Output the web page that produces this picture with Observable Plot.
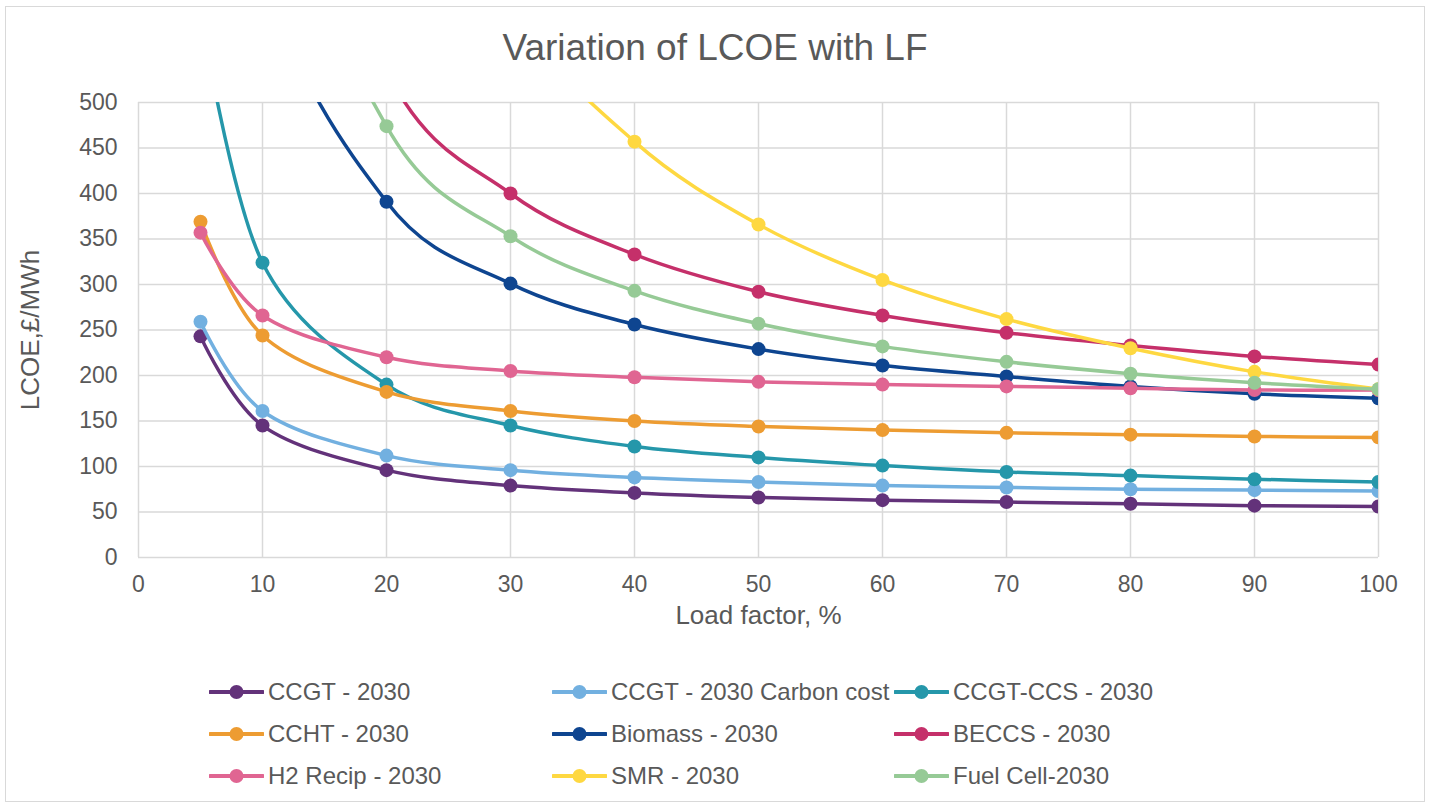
<!DOCTYPE html>
<html>
<head>
<meta charset="utf-8">
<script src="https://cdn.jsdelivr.net/npm/d3@7"></script>
<script src="https://cdn.jsdelivr.net/npm/@observablehq/plot@0.6"></script>
<style>
  html, body { margin: 0; padding: 0; background: #fff; }
  #chart {
    position: relative; width: 1434px; height: 810px; overflow: hidden;
    font-family: "Liberation Sans", Arial, sans-serif; color: #595959;
  }
  #frame {
    position: absolute; left: 5px; top: 6px; width: 1420px; height: 796px;
    border: 1.5px solid #d9d9d9; box-sizing: border-box;
  }
  #title {
    position: absolute; left: 0; width: 1430px; top: 26px; text-align: center;
    font-size: 37px; line-height: 44px; color: #595959;
  }
  #plot { position: absolute; left: 0; top: 0; }
  .legend-item {
    position: absolute; display: flex; align-items: center; height: 30px;
    font-size: 24px; color: #595959; white-space: nowrap;
  }
  .legend-item svg { margin-right: 4px; }
</style>
</head>
<body>
<div id="chart">
  <div id="frame"></div>
  <div id="title">Variation of LCOE with LF</div>
  <div id="plot"></div>
</div>
<script>
// Load factor (%) at which each technology was costed
const loadFactors = [5, 10, 20, 30, 40, 50, 60, 70, 80, 90, 100];

// LCOE in £/MWh, one array per technology (values above 500 run off the top of the axis)
const ccgt2030       = [243, 145, 96, 79, 71, 66, 63, 61, 59, 57, 56];
const ccgtCarbon2030 = [259, 161, 112, 96, 88, 83, 79, 77, 75, 74, 73];
const ccgtCcs2030    = [600, 324, 190, 145, 122, 110, 101, 94, 90, 86, 83];
const ccht2030       = [369, 244, 182, 161, 150, 144, 140, 137, 135, 133, 132];
const biomass2030    = [1196, 659, 391, 301, 256, 229, 211, 199, 188, 180, 175];
const beccs2030      = [1748, 939, 535, 400, 333, 292, 266, 247, 233, 221, 212];
const h2Recip2030    = [357, 266, 220, 205, 198, 193, 190, 188, 186, 184, 184];
const smr2030        = [3634, 1818, 910, 608, 457, 366, 305, 262, 230, 204, 185];
const fuelCell2030   = [1563, 837, 474, 353, 293, 257, 232, 215, 202, 192, 185];

const seriesNames = [
  "CCGT - 2030", "CCGT - 2030 Carbon cost", "CCGT-CCS - 2030",
  "CCHT - 2030", "Biomass - 2030", "BECCS - 2030",
  "H2 Recip - 2030", "SMR - 2030", "Fuel Cell-2030"
];
const seriesValues = [
  ccgt2030, ccgtCarbon2030, ccgtCcs2030,
  ccht2030, biomass2030, beccs2030,
  h2Recip2030, smr2030, fuelCell2030
];
const seriesColors = [
  "#63327a", "#72b0e0", "#2597aa",
  "#ed9c32", "#0e4590", "#c5306a",
  "#e06592", "#fed841", "#96ca96"
];

const xTicks = d3.range(0, 101, 10);
const yTicks = d3.range(0, 501, 50);

// Long-format rows built from the arrays above
const rows = seriesNames.flatMap((name, i) =>
  loadFactors.map((lf, j) => ({series: name, lf, lcoe: seriesValues[i][j]}))
);

// Each series: smooth line then its markers, drawn in legend order
const seriesMarks = seriesNames.flatMap((name, i) => {
  const data = rows.filter(d => d.series === name);
  return [
    Plot.line(data, {x: "lf", y: "lcoe", stroke: seriesColors[i], strokeWidth: 3.5,
      curve: "cardinal", tension: 0, clip: true}),
    Plot.dot(data, {x: "lf", y: "lcoe", fill: seriesColors[i], r: 7, clip: true})
  ];
});

const chart = Plot.plot({
  width: 1434,
  height: 660,
  marginLeft: 138,
  marginRight: 56,
  marginTop: 102,
  marginBottom: 103,
  style: {fontFamily: "'Liberation Sans', Arial, sans-serif", color: "#595959", background: "transparent", overflow: "visible"},
  x: {domain: [0, 100]},
  y: {domain: [0, 500]},
  marks: [
    Plot.gridX(xTicks, {stroke: "#d9d9d9", strokeOpacity: 1, strokeWidth: 1.5}),
    Plot.gridY(yTicks, {stroke: "#d9d9d9", strokeOpacity: 1, strokeWidth: 1.5}),
    Plot.axisX(xTicks, {tickSize: 0, tickPadding: 18, fontSize: 23, label: null}),
    Plot.axisY(yTicks, {tickSize: 0, tickPadding: 21, fontSize: 23, label: null}),
    Plot.text(["Load factor, %"], {text: d => d, frameAnchor: "bottom", textAnchor: "middle", dy: 66, fontSize: 26, fill: "#595959"}),
    Plot.text(["LCOE,£/MWh"], {text: d => d, frameAnchor: "left", textAnchor: "middle", rotate: -90, dx: -108, fontSize: 26, fill: "#595959"}),
    ...seriesMarks
  ]
});
document.getElementById("plot").appendChild(chart);

// Legend: three columns, three rows
const legendCols = [209, 552, 894];
const legendRows = [692, 734, 776];
const chartDiv = document.getElementById("chart");
seriesNames.forEach((name, i) => {
  const item = document.createElement("div");
  item.className = "legend-item";
  item.style.left = legendCols[i % 3] + "px";
  item.style.top = (legendRows[Math.floor(i / 3)] - 15) + "px";
  const sw = d3.create("svg").attr("width", 55).attr("height", 30);
  sw.append("line").attr("x1", 1).attr("x2", 54).attr("y1", 15).attr("y2", 15)
    .attr("stroke", seriesColors[i]).attr("stroke-width", 4).attr("stroke-linecap", "round");
  sw.append("circle").attr("cx", 27.5).attr("cy", 15).attr("r", 7).attr("fill", seriesColors[i]);
  item.appendChild(sw.node());
  const label = document.createElement("span");
  label.textContent = name;
  item.appendChild(label);
  chartDiv.appendChild(item);
});
</script>
</body>
</html>
